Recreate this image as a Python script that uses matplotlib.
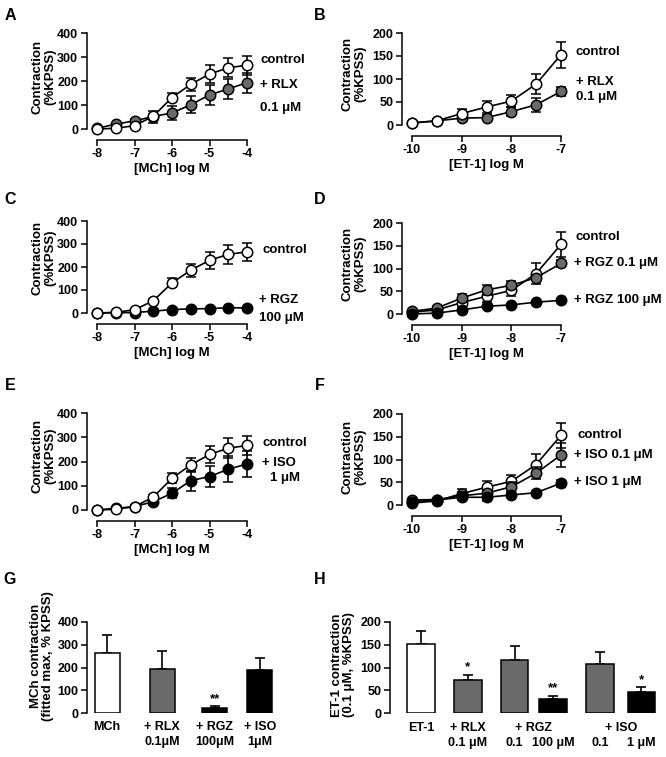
import numpy as np
import matplotlib.pyplot as plt
from matplotlib.transforms import blended_transform_factory

plt.rcParams['font.family'] = ['Liberation Sans', 'DejaVu Sans']
plt.rcParams['font.weight'] = 'bold'
plt.rcParams['axes.labelweight'] = 'bold'
plt.rcParams['axes.linewidth'] = 1.1

W, H = 666, 757
GREY = '#6a6a6a'

# concentration-response curves (mean, SEM)
mch_logc = [-8, -7.5, -7, -6.5, -6, -5.5, -5, -4.5, -4]
mch_control = [0, 3, 14, 53, 131, 186, 229, 255, 266]
mch_control_sem = [2, 3, 5, 8, 20, 28, 36, 40, 40]
mch_rlx = [3, 20, 34, 52, 67, 101, 142, 167, 193]
mch_rlx_sem = [2, 5, 8, 25, 30, 35, 42, 42, 42]
mch_rgz = [0, 1, 2, 8, 15, 18, 19, 23, 22]
mch_rgz_sem = [1, 1, 2, 3, 4, 4, 4, 5, 5]
mch_iso = [0, 7, 14, 34, 69, 121, 138, 168, 190]
mch_iso_sem = [2, 3, 5, 12, 21, 41, 44, 54, 55]

et_logc = [-10, -9.5, -9, -8.5, -8, -7.5, -7]
et_control = [4, 9, 25, 39, 52, 89, 153]
et_control_sem = [3, 4, 10, 13, 13, 22, 28]
et_rlx = [5, 9, 15, 16, 29, 44, 73]
et_rlx_sem = [2, 3, 5, 6, 10, 15, 9]
et_rgz01 = [6, 13, 35, 53, 63, 80, 111]
et_rgz01_sem = [3, 4, 9, 11, 9, 6, 8]
et_rgz100 = [0, 2, 9, 17, 20, 26, 30]
et_rgz100_sem = [1, 1, 2, 3, 3, 3, 4]
et_iso01 = [11, 12, 20, 26, 40, 70, 110]
et_iso01_sem = [3, 3, 8, 8, 10, 13, 26]
et_iso1 = [7, 11, 17, 17, 22, 27, 48]
et_iso1_sem = [2, 3, 6, 8, 4, 4, 8]

# summary bars
g_labels = ['MCh', '+ RLX\n0.1\u03bcM', '+ RGZ\n100\u03bcM', '+ ISO\n1\u03bcM']
g_pos = [0, 2.2, 4.3, 6.1]
g_values = [265, 193, 22, 190]
g_sem = [80, 78, 7, 52]
g_sig = ['', '', '**', '']
g_colors = ['white', GREY, 'black', 'black']

h_pos = [0, 1.7, 3.4, 4.8, 6.5, 8.0]
h_values = [152, 72, 117, 31, 108, 47]
h_sem = [29, 12, 30, 7, 26, 10]
h_sig = ['', '*', '', '**', '', '*']
h_colors = ['white', GREY, GREY, 'black', GREY, 'black']
h_line1 = [('ET-1', [0]), ('+ RLX', [1]), ('+ RGZ', [2, 3]), ('+ ISO', [4, 5])]
h_line2 = ['', '0.1 \u03bcM', '0.1', '100 \u03bcM', '0.1', '1 \u03bcM']

fig = plt.figure(figsize=(W / 100, H / 100), dpi=100)


def px_axes(x0, y0, x1, y1):
    return fig.add_axes([x0 / W, 1 - y1 / H, (x1 - x0) / W, (y1 - y0) / H])


def fig_text(x, y, s, **kw):
    fig.text(x / W, 1 - y / H, s, **kw)


def bold_ticks(ax):
    for t in ax.get_xticklabels() + ax.get_yticklabels():
        t.set_fontweight('bold')


def style_curve(ax, xlim, ymax, xticks, yticks):
    ax.set_xlim(xlim)
    ax.set_ylim(0, ymax)
    for s in ['top', 'right']:
        ax.spines[s].set_visible(False)
    ax.spines['left'].set_position(('outward', 7.5))
    ax.spines['bottom'].set_position(('outward', 8))
    ax.spines['left'].set_bounds(0, ymax)
    ax.spines['bottom'].set_bounds(*xlim)
    ax.set_xticks(xticks)
    ax.set_yticks(yticks)
    ax.set_xticklabels([str(t) for t in xticks])
    ax.tick_params(direction='out', length=4, width=1.1, labelsize=9, pad=2)
    bold_ticks(ax)


def curve(ax, x, y, e, face, z):
    c = ax.errorbar(x, y, yerr=e, fmt='-o', color='black', mfc=face, mec='black',
                    ms=7.5, mew=1.1, lw=1.2, elinewidth=1.2, capsize=3.5, capthick=1.2,
                    zorder=z)
    for a in [c.lines[0], *c.lines[1], *c.lines[2]]:
        a.set_clip_on(False)


def side_text(ax, items):
    for s, fx, fy in items:
        ax.text(fx, fy, s, transform=ax.transAxes, ha='left', va='center',
                fontsize=9.5, clip_on=False)


# ---- A
ax = px_axes(97, 33, 247, 129)
curve(ax, mch_logc, mch_rlx, mch_rlx_sem, GREY, 3)
curve(ax, mch_logc, mch_control, mch_control_sem, 'white', 4)
style_curve(ax, (-8, -4), 400, [-8, -7, -6, -5, -4], [0, 100, 200, 300, 400])
ax.set_xlabel('[MCh] log M', fontsize=9.5, labelpad=2)
side_text(ax, [('control', 1.087, 0.72), ('+ RLX', 1.087, 0.46), ('0.1 \u03bcM', 1.087, 0.22)])

# ---- B
ax = px_axes(412, 33, 561, 125)
curve(ax, et_logc, et_rlx, et_rlx_sem, GREY, 3)
curve(ax, et_logc, et_control, et_control_sem, 'white', 4)
style_curve(ax, (-10, -7), 200, [-10, -9, -8, -7], [0, 50, 100, 150, 200])
ax.set_xlabel('[ET-1] log M', fontsize=9.5, labelpad=2)
side_text(ax, [('control', 1.10, 0.79), ('+ RLX', 1.10, 0.47), ('0.1 \u03bcM', 1.10, 0.30)])

# ---- C
ax = px_axes(97, 221, 247, 313)
curve(ax, mch_logc, mch_rgz, mch_rgz_sem, 'black', 3)
curve(ax, mch_logc, mch_control, mch_control_sem, 'white', 4)
style_curve(ax, (-8, -4), 400, [-8, -7, -6, -5, -4], [0, 100, 200, 300, 400])
ax.set_xlabel('[MCh] log M', fontsize=9.5, labelpad=2)
side_text(ax, [('control', 1.10, 0.68), ('+ RGZ', 1.08, 0.14), ('100 \u03bcM', 1.08, -0.05)])

# ---- D
ax = px_axes(412, 223, 561, 314)
curve(ax, et_logc, et_control, et_control_sem, 'white', 3)
curve(ax, et_logc, et_rgz01, et_rgz01_sem, GREY, 4)
curve(ax, et_logc, et_rgz100, et_rgz100_sem, 'black', 5)
style_curve(ax, (-10, -7), 200, [-10, -9, -8, -7], [0, 50, 100, 150, 200])
ax.set_xlabel('[ET-1] log M', fontsize=9.5, labelpad=2)
side_text(ax, [('control', 1.10, 0.85), ('+ RGZ 0.1 \u03bcM', 1.09, 0.56),
               ('+ RGZ 100 \u03bcM', 1.09, 0.15)])

# ---- E
ax = px_axes(97, 413, 247, 510)
curve(ax, mch_logc, mch_iso, mch_iso_sem, 'black', 3)
curve(ax, mch_logc, mch_control, mch_control_sem, 'white', 4)
style_curve(ax, (-8, -4), 400, [-8, -7, -6, -5, -4], [0, 100, 200, 300, 400])
ax.set_xlabel('[MCh] log M', fontsize=9.5, labelpad=2)
side_text(ax, [('control', 1.10, 0.69), ('+ ISO', 1.10, 0.48), ('1 \u03bcM', 1.15, 0.33)])

# ---- F
ax = px_axes(412, 414, 561, 505)
curve(ax, et_logc, et_control, et_control_sem, 'white', 3)
curve(ax, et_logc, et_iso01, et_iso01_sem, GREY, 4)
curve(ax, et_logc, et_iso1, et_iso1_sem, 'black', 5)
style_curve(ax, (-10, -7), 200, [-10, -9, -8, -7], [0, 50, 100, 150, 200])
ax.set_xlabel('[ET-1] log M', fontsize=9.5, labelpad=2)
side_text(ax, [('control', 1.11, 0.77), ('+ ISO 0.1 \u03bcM', 1.09, 0.55),
               ('+ ISO 1 \u03bcM', 1.09, 0.25)])


def style_bar(ax, ymax, yticks):
    ax.set_ylim(0, ymax)
    for s in ['top', 'right', 'bottom']:
        ax.spines[s].set_visible(False)
    ax.spines['left'].set_bounds(0, ymax)
    ax.set_yticks(yticks)
    ax.tick_params(axis='y', direction='out', length=4, width=1.1, labelsize=9, pad=2)
    ax.tick_params(axis='x', length=0, labelsize=9, pad=6)


def bars(ax, pos, vals, sem, colors, sig):
    ax.bar(pos, vals, width=1.0, color=colors, edgecolor='black', linewidth=1.1, zorder=2)
    ax.errorbar(pos, vals, yerr=[np.zeros(len(vals)), sem], fmt='none', ecolor='black',
                elinewidth=1.2, capsize=3.5, capthick=1.2, zorder=1)
    for p, v, e, s in zip(pos, vals, sem, sig):
        if s:
            ax.annotate(s, (p, v + e), xytext=(0, 1), textcoords='offset points',
                        ha='center', va='bottom', fontsize=9.5)


# ---- G
ax = px_axes(87, 622, 280, 713)
bars(ax, g_pos, g_values, g_sem, g_colors, g_sig)
ax.set_xlim(-0.8, 6.9)
style_bar(ax, 400, [0, 100, 200, 300, 400])
ax.set_xticks(g_pos)
ax.set_xticklabels(g_labels, linespacing=1.35)
bold_ticks(ax)

# ---- H
ax = px_axes(390, 622, 662, 713)
bars(ax, h_pos, h_values, h_sem, h_colors, h_sig)
ax.set_xlim(-1.13, 8.75)
style_bar(ax, 200, [0, 50, 100, 150, 200])
ax.set_xticks([])
bold_ticks(ax)
tr = blended_transform_factory(ax.transData, ax.transAxes)
for s, idx in h_line1:
    ax.text(np.mean([h_pos[i] for i in idx]), -0.16, s, transform=tr,
            ha='center', va='center', fontsize=9)
for p, s in zip(h_pos, h_line2):
    if s:
        ax.text(p, -0.33, s, transform=tr, ha='center', va='center', fontsize=9)

# y labels
ylab = dict(rotation=90, ha='center', va='center', fontsize=9.5, linespacing=1.05,
            multialignment='center')
for x, y in [(44, 77), (44, 258), (44, 456)]:
    fig_text(x, y, 'Contraction\n(%KPSS)', **ylab)
for x, y in [(354, 74), (354, 264), (354, 457)]:
    fig_text(x, y, 'Contraction\n(%KPSS)', **ylab)
fig_text(42, 656, 'MCh contraction\n(fitted max, % KPSS)', **ylab)
fig_text(343, 665, 'ET-1 contraction\n(0.1 \u03bcM, %KPSS)', **ylab)

# panel letters
for s, x, y in [('A', 10, 15), ('B', 320, 15), ('C', 10, 200), ('D', 320, 200),
                ('E', 10, 385), ('F', 320, 385), ('G', 10, 580), ('H', 320, 580)]:
    fig_text(x, y, s, ha='center', va='center', fontsize=11.5)

fig.savefig('out.png', dpi=100)
